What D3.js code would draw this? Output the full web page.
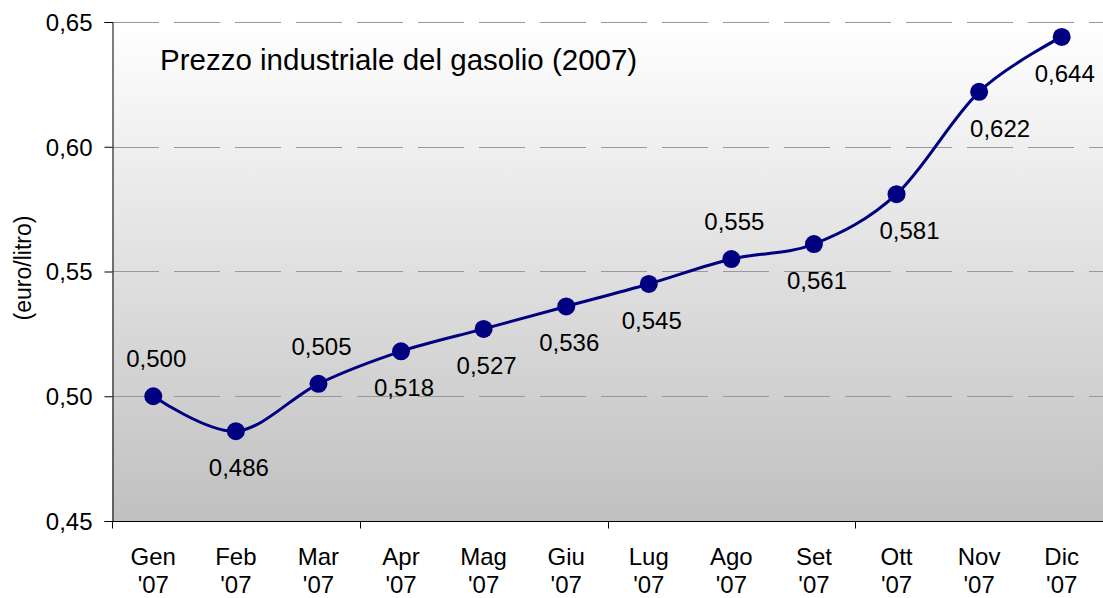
<!DOCTYPE html>
<html>
<head>
<meta charset="utf-8">
<script src="https://cdn.jsdelivr.net/npm/d3@7"></script>
<style>
  body { margin: 0; background: #fff; }
  svg { display: block; font-family: Arial, "Liberation Sans", sans-serif; }
</style>
</head>
<body>
<div id="chart"></div>
<script>
// Prezzo industriale del gasolio 2007
const months = ['Gen', 'Feb', 'Mar', 'Apr', 'Mag', 'Giu', 'Lug', 'Ago', 'Set', 'Ott', 'Nov', 'Dic'];
const prices = [0.500, 0.486, 0.505, 0.518, 0.527, 0.536, 0.545, 0.555, 0.561, 0.581, 0.622, 0.644];
const labelAbove = [true, false, true, false, false, false, false, true, false, false, false, false];
const yTicks = [0.45, 0.50, 0.55, 0.60, 0.65];

const width = 1103, height = 598;
const margin = { top: 22, right: 0, bottom: 77, left: 112 };
const w = width - margin.left - margin.right;
const h = height - margin.top - margin.bottom;
const fmt = v => v.toFixed(2).replace('.', ',');
const fmt3 = v => v.toFixed(3).replace('.', ',');
// labels pushed sideways where the line is steep
const labelNudge = { Ott: 10, Nov: 18 };

const svg = d3.select('#chart').append('svg')
    .attr('width', width)
    .attr('height', height);

const defs = svg.append('defs');
const grad = defs.append('linearGradient')
    .attr('id', 'bg')
    .attr('x1', 0).attr('y1', 0).attr('x2', 0).attr('y2', 1);
grad.append('stop').attr('offset', '0%').attr('stop-color', '#ffffff');
grad.append('stop').attr('offset', '100%').attr('stop-color', '#c0c0c0');

const g = svg.append('g')
    .attr('transform', `translate(${margin.left},${margin.top})`);

const x = d3.scaleBand().domain(months).range([0, w]);
const y = d3.scaleLinear().domain([0.45, 0.65]).range([h, 0]);

g.append('rect')
    .attr('width', w)
    .attr('height', h)
    .attr('fill', 'url(#bg)');

// gridlines
g.selectAll('.grid')
    .data(yTicks.slice(1))
    .enter().append('line')
    .attr('x1', 1).attr('x2', w)
    .attr('y1', d => Math.round(y(d)) + 0.5)
    .attr('y2', d => Math.round(y(d)) + 0.5)
    .attr('stroke', '#999')
    .attr('stroke-dasharray', '46,15');

// y axis
const yAxis = g.append('g')
    .attr('transform', 'translate(0.5,0)')
    .call(d3.axisLeft(y).tickValues(yTicks).tickSize(8).tickPadding(12).tickFormat(fmt));
yAxis.select('.domain').attr('stroke', '#000');
yAxis.selectAll('text').style('font-size', '24px').attr('fill', '#000').attr('dy', '0.35em');
yAxis.selectAll('.tick line').attr('stroke', '#000');

// x axis
const xAxis = g.append('g')
    .attr('transform', `translate(0,${h + 0.5})`);
xAxis.append('line')
    .attr('x1', 0).attr('x2', w)
    .attr('stroke', '#000');
xAxis.selectAll('.xtick')
    .data(months.filter((d, i) => i % 3 === 0).concat(['end']))
    .enter().append('line')
    .attr('x1', d => Math.round(d === 'end' ? w : x(d)) + 0.5)
    .attr('x2', d => Math.round(d === 'end' ? w : x(d)) + 0.5)
    .attr('y1', 0).attr('y2', 7)
    .attr('stroke', '#000');
const xl = xAxis.selectAll('.xlab')
    .data(months)
    .enter().append('text')
    .attr('text-anchor', 'middle')
    .style('font-size', '24px')
    .attr('fill', '#000');
xl.append('tspan')
    .attr('x', d => x(d) + x.bandwidth() / 2)
    .attr('y', 43)
    .text(d => d);
xl.append('tspan')
    .attr('x', d => x(d) + x.bandwidth() / 2)
    .attr('y', 71)
    .text("'07");

// line
const pts = months.map((m, i) => ({ m, v: prices[i], above: labelAbove[i] }));
const line = d3.line()
    .x(d => x(d.m) + x.bandwidth() / 2)
    .y(d => y(d.v))
    .curve(d3.curveCardinal);

g.append('path')
    .datum(pts)
    .attr('d', line)
    .attr('fill', 'none')
    .attr('stroke', '#000080')
    .attr('stroke-width', 3);

g.selectAll('.dot')
    .data(pts)
    .enter().append('circle')
    .attr('cx', d => x(d.m) + x.bandwidth() / 2)
    .attr('cy', d => y(d.v))
    .attr('r', 9)
    .attr('fill', '#000080');

g.selectAll('.vlab')
    .data(pts)
    .enter().append('text')
    .attr('x', d => x(d.m) + x.bandwidth() / 2 + 3 + (labelNudge[d.m] || 0))
    .attr('y', d => y(d.v) + (d.above ? -29 : 45))
    .attr('text-anchor', 'middle')
    .style('font-size', '24px')
    .attr('fill', '#000')
    .text(d => fmt3(d.v));

// title
g.append('text')
    .attr('x', 48)
    .attr('y', 48)
    .style('font-size', '29.5px')
    .attr('fill', '#000')
    .text('Prezzo industriale del gasolio (2007)');

// y label
svg.append('text')
    .attr('transform', 'translate(31,268) rotate(-90)')
    .attr('text-anchor', 'middle')
    .style('font-size', '23px')
    .attr('fill', '#000')
    .text('(euro/litro)');
</script>
</body>
</html>
